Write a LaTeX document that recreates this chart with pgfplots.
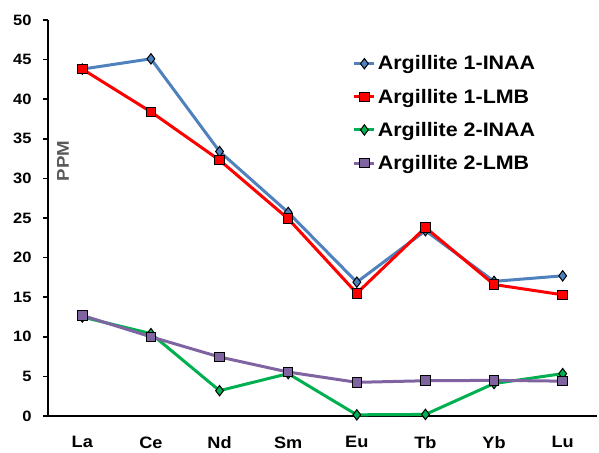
\documentclass[border=0pt]{standalone}
\usepackage{pgfplots}
\pgfplotsset{compat=1.18}
\usepackage{fontspec}
\setmainfont{Liberation Sans}[FakeStretch=1.1]
\newfontfamily\legfont{Liberation Sans}[FakeStretch=1.1]
\definecolor{cblue}{HTML}{4F81BD}
\definecolor{cred}{HTML}{FF0000}
\definecolor{cgreen}{HTML}{00B050}
\definecolor{cpurple}{HTML}{8064A2}
\definecolor{cgray}{HTML}{595959}
\begin{document}
\begin{tikzpicture}[x=1pt,y=1pt]
\path[use as bounding box] (0,0) rectangle (599,452);
\begin{axis}[
  at={(48pt,36pt)}, anchor=south west,
  scale only axis, width=549pt, height=396pt,
  xmin=-0.5, xmax=7.5, ymin=0, ymax=50,
  axis lines*=left,
  axis line style={black, line width=2.2pt, -},
  xtick={0,...,7},
  xticklabels={La,Ce,Nd,Sm,Eu,Tb,Yb,Lu},
  x tick style={draw=none},
  extra x ticks={-0.5,0.5,...,7.5},
  extra x tick labels={},
  extra x tick style={tick style={draw=black, line width=1.5pt}, major tick length=5pt, tick align=outside},
  ytick={0,5,...,50},
  y tick style={black, line width=1.5pt},
  major tick length=5pt,
  tick align=outside,
  yticklabel style={font=\fontsize{15}{17}\selectfont\bfseries, anchor=east, xshift=-8pt},
  xticklabel style={font=\fontsize{16.5}{18}\selectfont\bfseries, yshift=-12pt},
  /pgf/number format/assume math mode=true,
  legend style={at={(0.555,0.915)}, anchor=north west, draw=none, fill=none,
    font=\legfont\fontsize{19.5}{21}\selectfont\bfseries, row sep=13.5pt, inner sep=0pt,
    legend cell align=left},
  legend image code/.code={\draw[#1, mark repeat=2, mark phase=2] plot coordinates {(0pt,0pt) (10pt,0pt) (20pt,0pt)};},
  clip=false,
]
\addplot[cblue, line width=3pt, mark=diamond*, mark size=5.2pt, mark options={fill=cblue, draw=black, line width=1pt}] coordinates {
(0,43.8) (1,45.1) (2,33.4) (3,25.7) (4,16.9) (5,23.4) (6,17.0) (7,17.7)};
\addlegendentry{Argillite 1-INAA}
\addplot[cred, line width=3pt, mark=square*, mark size=4.8pt, mark options={fill=cred, draw=black, line width=1pt}] coordinates {
(0,43.8) (1,38.4) (2,32.3) (3,24.9) (4,15.5) (5,23.8) (6,16.6) (7,15.3)};
\addlegendentry{Argillite 1-LMB}
\addplot[cgreen, line width=3pt, mark=diamond*, mark size=5.2pt, mark options={fill=cgreen, draw=black, line width=1pt}] coordinates {
(0,12.5) (1,10.4) (2,3.2) (3,5.35) (4,0.15) (5,0.2) (6,4.1) (7,5.35)};
\addlegendentry{Argillite 2-INAA}
\addplot[cpurple, line width=3pt, mark=square*, mark size=4.8pt, mark options={fill=cpurple, draw=black, line width=1pt}] coordinates {
(0,12.7) (1,10.0) (2,7.45) (3,5.55) (4,4.25) (5,4.45) (6,4.5) (7,4.4)};
\addlegendentry{Argillite 2-LMB}
\node[rotate=90, text=cgray, font=\fontsize{17}{19}\selectfont\bfseries] at (axis cs:-0.28,32.2) {PPM};
\end{axis}
\end{tikzpicture}
\end{document}
